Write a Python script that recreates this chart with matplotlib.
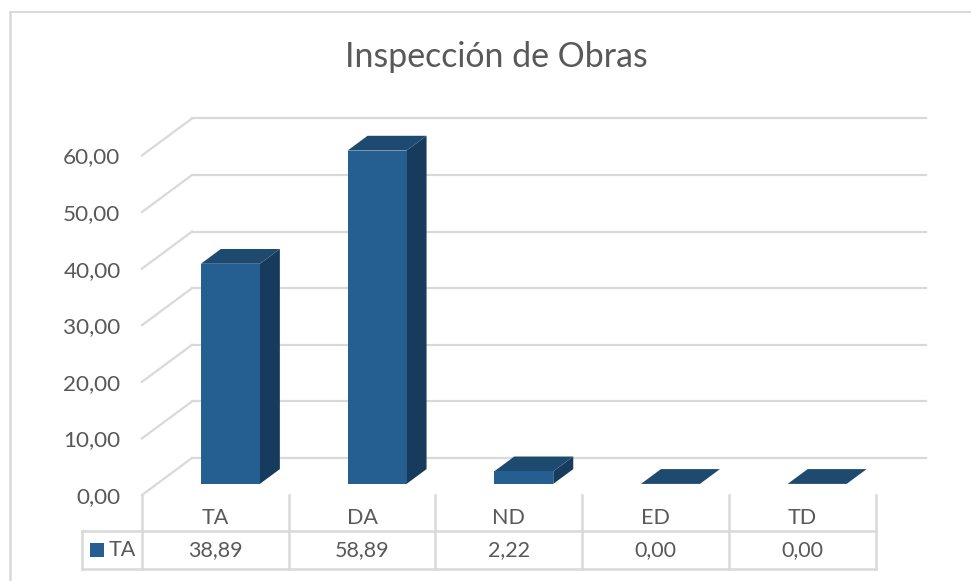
import matplotlib
matplotlib.use("Agg")
import matplotlib.pyplot as plt
from matplotlib.patches import Polygon, Rectangle
from matplotlib.lines import Line2D

categories = ["TA", "DA", "ND", "ED", "TD"]
values = [38.89, 58.89, 2.22, 0.00, 0.00]
value_labels = ["38,89", "58,89", "2,22", "0,00", "0,00"]
yticks = [0, 10, 20, 30, 40, 50, 60]
series_name = "TA"

W, H = 971, 581
FRONT = "#255E91"
TOP = "#1E4A70"
SIDE = "#173B5C"
GRID = "#D9D9D9"
TEXT = "#595959"
plt.rcParams["font.family"] = ["Lato", "DejaVu Sans"]

fig = plt.figure(figsize=(W / 100, H / 100), dpi=100)

# axes: x is category units, y is value units, front plane of the 3d box
left, right, y0, y60 = 142, 875.5, 495, 155.4
ax = fig.add_axes([left / W, 1 - y0 / H, (right - left) / W, (y0 - y60) / H])
ax.set_xlim(-0.5, 4.5)
ax.set_ylim(0, 60)
ax.patch.set_alpha(0)
for s in ax.spines.values():
    s.set_visible(False)

x_px = (right - left) / 5
y_px = (y0 - y60) / 60
DX = 50 / x_px  # depth of the floor in data units
DY = 37 / y_px


def proj(x, v, d):
    return (x + d * DX, v + d * DY)


# slanted side wall lines and back wall lines
for v in yticks:
    ax.plot(*zip(proj(-0.5, v, 0), proj(-0.5, v, 1)), color=GRID, lw=1.6, clip_on=False, zorder=1)
    ax.plot(*zip(proj(-0.5, v, 1), proj(4.5, v, 1)), color=GRID, lw=1.6, clip_on=False, zorder=1)

# bars, box from depth 0.3 to 0.7
hw = 29.5 / x_px
for i, v in enumerate(values):
    a, b = i - hw, i + hw
    ax.add_patch(Polygon([proj(b, 0, .3), proj(b, 0, .7), proj(b, v, .7), proj(b, v, .3)],
                         fc=SIDE, ec="none", clip_on=False, zorder=3))
    ax.add_patch(Polygon([proj(a, v, .3), proj(b, v, .3), proj(b, v, .7), proj(a, v, .7)],
                         fc=TOP, ec="none", clip_on=False, zorder=3))
    if v > 0:
        ax.add_patch(Polygon([proj(a, 0, .3), proj(b, 0, .3), proj(b, v, .3), proj(a, v, .3)],
                             fc=FRONT, ec="none", clip_on=False, zorder=4))

ax.set_yticks(yticks)
ax.set_yticklabels(["%d,00" % v for v in yticks], fontsize=16.2, color=TEXT)
ax.tick_params(axis="y", length=0, pad=15.5)
ax.set_xticks([])

# data table below the axes, in axes x and pixel y
tr = ax.get_xaxis_transform()


def py(p):
    return 1 - (p - y60) / (y0 - y60)


for i in range(6):
    ax.plot([i - .5, i - .5], [py(495), py(569)], transform=tr, color=GRID, lw=1.8, clip_on=False)
tbl_left = -0.5 - 60 / x_px
ax.plot([tbl_left, 4.5], [py(531), py(531)], transform=tr, color=GRID, lw=1.8, clip_on=False)
ax.plot([tbl_left, 4.5], [py(569), py(569)], transform=tr, color=GRID, lw=1.8, clip_on=False)
ax.plot([tbl_left, tbl_left], [py(531), py(569)], transform=tr, color=GRID, lw=1.8, clip_on=False)
for i, c in enumerate(categories):
    ax.text(i, py(518), c, transform=tr, ha="center", va="center", fontsize=15.5, color=TEXT, clip_on=False)
    ax.text(i, py(550.5), value_labels[i], transform=tr, ha="center", va="center", fontsize=15.5, color=TEXT, clip_on=False)
ax.add_patch(Rectangle((-0.5 - 52 / x_px, py(557)), 14 / x_px, py(543) - py(557), transform=tr,
                       fc=FRONT, ec="none", clip_on=False))
ax.text(-0.5 - 33 / x_px, py(550.5), series_name, transform=tr, ha="left", va="center", fontsize=15.5,
        color=TEXT, clip_on=False)

# chart frame, only top and left edges are inside the crop
fig.add_artist(Line2D([9.5 / W, 9.5 / W], [0, 1 - 12 / H], color=GRID, lw=1.8))
fig.add_artist(Line2D([9.5 / W, 1], [1 - 12 / H, 1 - 12 / H], color=GRID, lw=1.4))
fig.text(496 / W, 1 - 57 / H, "Inspección de Obras", ha="center", va="center", fontsize=24.4, color=TEXT)

fig.savefig("out.png", dpi=100)
